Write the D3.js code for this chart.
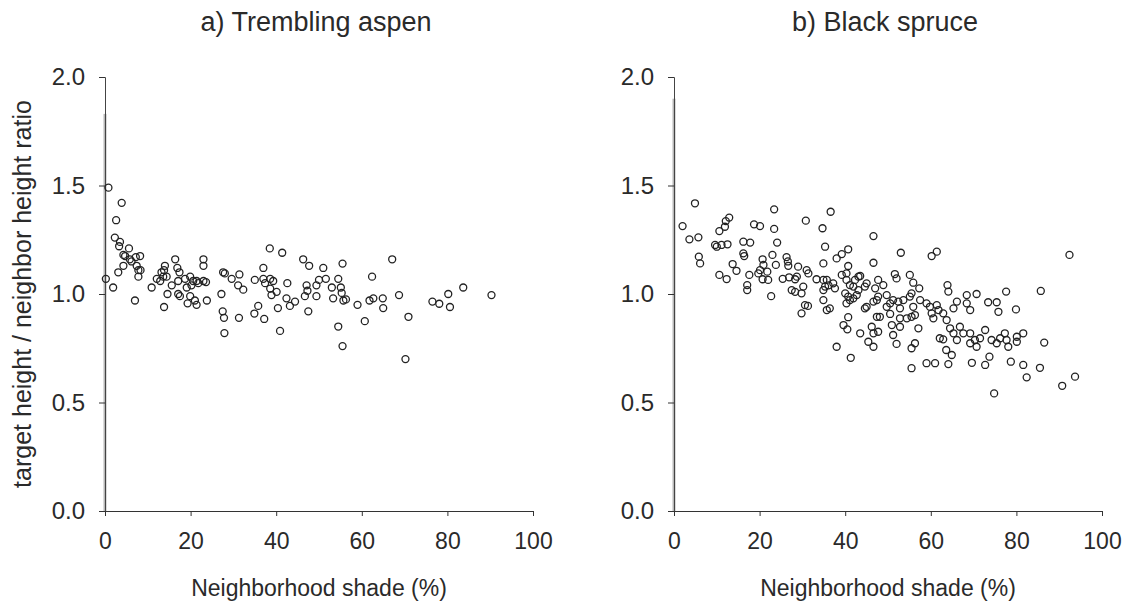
<!DOCTYPE html>
<html>
<head>
<meta charset="utf-8">
<script src="https://cdn.jsdelivr.net/npm/d3@7"></script>
<style>
  body { margin: 0; background: #fff; }
  svg { font-family: "Liberation Sans", Arial, sans-serif; }
</style>
</head>
<body>
<script>
// Panel a: Trembling aspen (neighborhood shade %, height ratio)
const aspenX = [0.8, 0.2, 1.9, 2.3, 2.6, 3.1, 3.3, 3.5, 3.9, 4.3, 4.3, 4.7, 5.6, 5.8, 6.2, 7.0, 7.2, 7.4, 7.8, 7.8,
  8.2, 8.3, 10.9, 12.1, 12.9, 13.2, 13.6, 13.8, 13.8, 14.0, 14.4, 14.6, 15.6, 16.4, 16.9, 17.1, 17.1, 17.4, 17.5, 18.7,
  19.1, 19.3, 19.9, 19.9, 20.2, 20.6, 21.0, 21.4, 21.4, 21.8, 23.0, 23.0, 23.0, 23.6, 23.8, 27.2, 27.5, 27.6, 27.8, 27.9,
  28.0, 29.6, 31.1, 31.3, 31.4, 32.3, 34.9, 35.0, 35.8, 37.0, 37.0, 37.2, 37.4, 38.5, 38.6, 38.6, 38.9, 39.3, 40.1, 40.4,
  40.9, 41.4, 42.4, 42.6, 43.2, 44.4, 46.3, 46.7, 47.1, 47.3, 47.5, 47.7, 49.4, 49.4, 50.0, 51.0, 51.6, 53.0, 53.3, 54.5,
  54.5, 55.1, 55.3, 55.5, 55.5, 55.7, 56.3, 59.0, 60.7, 61.8, 62.4, 62.7, 64.9, 65.0, 67.1, 68.7, 70.2, 70.9, 76.5, 78.1,
  80.2, 80.6, 83.7, 90.3];
const aspenY = [1.49, 1.07, 1.03, 1.26, 1.34, 1.10, 1.22, 1.24, 1.42, 1.18, 1.13, 1.175, 1.21, 1.16, 1.15, 0.97, 1.17, 1.13, 1.11, 1.08,
  1.175, 1.11, 1.03, 1.07, 1.06, 1.10, 1.08, 1.11, 0.94, 1.13, 1.08, 1.00, 1.04, 1.16, 1.12, 1.06, 1.00, 1.10, 0.99, 1.07,
  1.03, 0.957, 1.08, 0.99, 1.04, 1.06, 0.97, 1.06, 0.95, 1.05, 1.06, 1.16, 1.13, 1.055, 0.97, 1.00, 0.92, 1.10, 0.89, 0.82,
  1.095, 1.07, 1.04, 0.89, 1.09, 1.02, 0.91, 1.065, 0.945, 1.07, 1.12, 0.885, 1.05, 1.21, 1.07, 1.025, 0.995, 1.06, 1.01, 0.935,
  0.83, 1.19, 0.98, 1.05, 0.945, 0.965, 1.16, 0.99, 1.04, 1.015, 0.92, 1.13, 0.99, 1.04, 1.065, 1.12, 1.07, 1.03, 0.98, 1.07,
  0.85, 1.03, 1.005, 1.14, 0.76, 0.97, 0.975, 0.95, 0.875, 0.97, 1.08, 0.98, 0.98, 0.935, 1.16, 0.995, 0.70, 0.895, 0.965, 0.955,
  1.00, 0.94, 1.03, 0.995];

// Panel b: Black spruce
const spruceX = [2.0, 3.6, 4.9, 5.7, 5.8, 6.1, 9.6, 10.0, 10.6, 10.6, 11.1, 11.9, 12.1, 12.3, 12.5, 12.9, 13.7, 14.6, 16.2, 16.2,
  16.4, 17.1, 17.1, 17.6, 17.8, 18.7, 19.7, 20.1, 20.1, 20.7, 20.7, 20.9, 21.8, 22.0, 22.7, 23.0, 23.4, 23.4, 23.8, 24.1,
  25.4, 26.3, 26.6, 26.7, 26.9, 27.5, 28.3, 28.3, 28.7, 29.0, 29.8, 29.8, 30.2, 30.6, 30.8, 31.0, 31.3, 31.4, 33.3, 34.7,
  34.9, 34.9, 34.9, 34.9, 35.3, 35.3, 35.7, 35.7, 36.1, 36.4, 36.6, 37.2, 37.6, 38.0, 38.0, 39.2, 39.2, 39.6, 40.0, 40.3,
  40.3, 40.3, 40.5, 40.7, 40.7, 40.7, 40.7, 41.1, 41.1, 41.3, 41.9, 41.9, 42.3, 42.7, 43.1, 43.1, 43.5, 43.5, 44.6, 44.6,
  45.0, 45.0, 45.4, 46.2, 46.6, 46.6, 46.6, 46.6, 46.6, 47.0, 47.4, 47.4, 47.7, 47.7, 47.7, 48.1, 48.9, 49.7, 49.7, 50.5,
  50.5, 50.9, 51.2, 51.2, 51.6, 52.0, 52.0, 52.4, 52.8, 52.8, 52.8, 53.0, 53.6, 54.4, 55.1, 55.1, 55.5, 55.5, 55.5, 55.5,
  55.9, 55.9, 56.3, 56.3, 57.1, 57.3, 57.5, 59.0, 59.0, 59.8, 60.2, 60.2, 60.6, 61.0, 61.4, 61.4, 61.8, 62.1, 62.9, 62.9,
  63.6, 63.7, 63.9, 64.1, 64.1, 64.5, 64.9, 65.3, 65.3, 66.1, 66.1, 66.8, 67.6, 68.4, 68.4, 69.2, 69.2, 69.2, 69.6, 70.3,
  70.7, 70.7, 71.5, 72.7, 72.7, 73.4, 73.7, 74.2, 74.8, 75.4, 75.4, 75.8, 76.2, 77.3, 77.6, 77.7, 78.1, 78.7, 79.9, 80.1,
  80.1, 81.6, 81.6, 82.4, 85.5, 85.7, 86.5, 90.7, 92.4, 93.7];
const spruceY = [1.313, 1.252, 1.418, 1.261, 1.172, 1.141, 1.226, 1.218, 1.29, 1.088, 1.226, 1.31, 1.336, 1.069, 1.229, 1.352, 1.138, 1.107, 1.241, 1.187,
  1.175, 1.041, 1.018, 1.088, 1.237, 1.321, 1.095, 1.313, 1.11, 1.16, 1.068, 1.134, 1.103, 1.065, 0.99, 1.18, 1.39, 1.30, 1.134, 1.237,
  1.07, 1.17, 1.15, 1.13, 1.077, 1.018, 1.068, 1.01, 1.08, 1.126, 1.003, 0.911, 1.034, 0.949, 1.338, 1.11, 0.945, 1.095, 1.068, 1.303,
  1.141, 1.065, 1.018, 0.972, 1.218, 1.034, 1.065, 0.926, 1.04, 0.934, 1.379, 1.049, 1.026, 1.164, 0.757, 1.184, 1.088, 0.857, 1.003, 1.095,
  1.065, 0.957, 0.837, 1.206, 1.129, 0.988, 0.893, 1.041, 0.972, 0.706, 1.034, 0.98, 1.065, 0.995, 1.08, 1.018, 1.083, 0.819, 1.034, 0.934,
  1.049, 0.941, 0.78, 0.849, 1.267, 1.144, 0.965, 0.819, 0.757, 1.026, 0.972, 0.895, 1.065, 0.988, 0.826, 0.895, 1.041, 0.995, 0.941, 0.957,
  0.908, 0.857, 0.972, 0.811, 1.092, 1.072, 0.77, 0.965, 0.934, 0.888, 0.849, 1.19, 0.972, 0.888, 1.088, 0.988, 1.003, 0.895, 0.75, 0.658,
  1.052, 0.941, 0.903, 0.773, 0.842, 1.026, 0.972, 0.957, 0.681, 0.941, 1.175, 0.911, 0.888, 0.681, 1.195, 0.949, 0.926, 0.796, 0.911, 0.791,
  0.742, 0.88, 1.041, 1.011, 0.677, 0.842, 0.719, 0.934, 0.819, 0.965, 0.788, 0.849, 0.819, 0.995, 0.957, 0.926, 0.819, 0.773, 0.683, 0.788,
  1.0, 0.757, 0.796, 0.834, 0.673, 0.962, 0.711, 0.788, 0.542, 0.962, 0.773, 0.918, 0.796, 0.819, 1.011, 0.788, 0.757, 0.688, 0.929, 0.803,
  0.78, 0.819, 0.673, 0.616, 0.66, 1.014, 0.776, 0.577, 1.18, 0.619];

const xTicks = [0, 20, 40, 60, 80, 100];
const yTicks = [0, 0.5, 1.0, 1.5, 2.0];
const panelTitles = ['a) Trembling aspen', 'b) Black spruce'];
const xLabel = 'Neighborhood shade (%)';
const yLabel = 'target height / neighbor height ratio';

const W = 1135, H = 602;
const svg = d3.select('body').append('svg').attr('width', W).attr('height', H);

const plotTop = 77, plotBottom = 511, plotW = 428;
const lefts = [105, 674];
const series = [[aspenX, aspenY], [spruceX, spruceY]];

const y = d3.scaleLinear().domain([0, 2]).range([plotBottom, plotTop]);

series.forEach(([xs, ys], i) => {
  const g = svg.append('g').attr('transform', `translate(${lefts[i]},0)`);
  const x = d3.scaleLinear().domain([0, 100]).range([0, plotW]);

  // scanned grey band along the y axis
  const bandTop = i === 0 ? 1.83 : 1.9;
  g.append('rect')
    .attr('x', -1.5).attr('width', 3)
    .attr('y', y(bandTop)).attr('height', y(0) - y(bandTop))
    .attr('fill', '#b8b8b8');

  const yAxis = g.append('g')
    .call(d3.axisLeft(y).tickValues(yTicks).tickFormat(d3.format('.1f')).tickSize(6).tickPadding(14));
  const xAxis = g.append('g')
    .attr('transform', `translate(0,${plotBottom})`)
    .call(d3.axisBottom(x).tickValues(xTicks).tickSize(5).tickPadding(17).tickSizeOuter(0));

  [yAxis, xAxis].forEach(a => {
    a.selectAll('text').attr('font-size', 23).attr('fill', '#2a2a2a')
      .style('font-family', '"Liberation Sans", Arial, sans-serif');
    a.selectAll('line, path').attr('stroke', '#333');
  });
  yAxis.selectAll('text').attr('font-size', 24);
  yAxis.select('.domain').attr('stroke', '#444');

  g.append('g').selectAll('circle')
    .data(xs.map((d, j) => [d, ys[j]]))
    .join('circle')
    .attr('cx', d => x(d[0]))
    .attr('cy', d => y(d[1]))
    .attr('r', 3.5)
    .attr('fill', 'none')
    .attr('stroke', '#222')
    .attr('stroke-width', 1.3);

  g.append('text')
    .attr('x', plotW / 2 - 3).attr('y', 31)
    .attr('text-anchor', 'middle').attr('font-size', 27).attr('fill', '#2a2a2a')
    .text(panelTitles[i]);

  g.append('text')
    .attr('x', plotW / 2).attr('y', 596)
    .attr('text-anchor', 'middle').attr('font-size', 23).attr('fill', '#2a2a2a')
    .text(xLabel);
});

svg.append('text')
  .attr('transform', `translate(31,${(plotTop + plotBottom) / 2}) rotate(-90)`)
  .attr('text-anchor', 'middle').attr('font-size', 25).attr('fill', '#2a2a2a')
  .text(yLabel);
</script>
</body>
</html>
